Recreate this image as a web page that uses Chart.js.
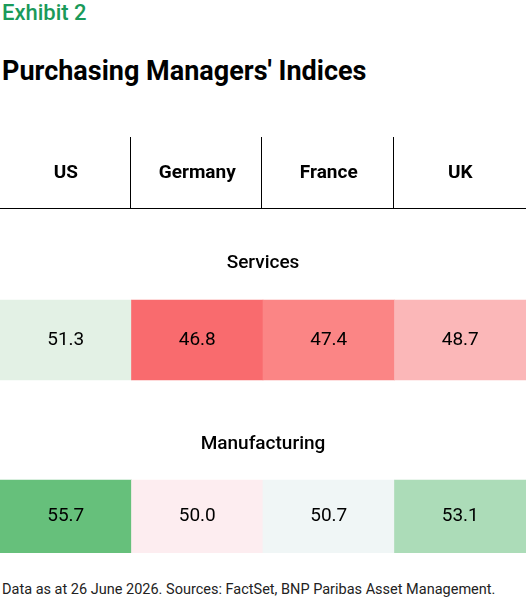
<!DOCTYPE html>
<html>
<head>
<meta charset="utf-8">
<script src="https://cdn.jsdelivr.net/npm/chart.js@4"></script>
<style>
  body { margin: 0; background: #fff; font-family: Roboto, "Noto Sans", sans-serif; }
  #exhibit { position: absolute; left: 2px; top: 0px; color: #1a9a5a; font-size: 22px; font-weight: 500; }
  #title { position: absolute; left: 2px; top: 55px; color: #000; font-size: 27px; font-weight: 700; }
  #wrap { position: absolute; left: 0; top: 137px; width: 526px; height: 416px; }
  #note { position: absolute; left: 2px; top: 581px; font-size: 14.5px; color: #222; }
</style>
</head>
<body>
<div id="exhibit">Exhibit 2</div>
<div id="title">Purchasing Managers' Indices</div>
<div id="wrap"><canvas id="myChart"></canvas></div>
<div id="note">Data as at 26 June 2026. Sources: FactSet, BNP Paribas Asset Management.</div>
<script>
// Table values
const countries = ['US', 'Germany', 'France', 'UK'];
const services = [51.3, 46.8, 47.4, 48.7];
const manufacturing = [55.7, 50.0, 50.7, 53.1];
const servicesColors = ['#e3f1e5', '#f96b6e', '#fb8585', '#fbb7b8'];
const manufacturingColors = ['#66c07b', '#fdedf0', '#f0f6f6', '#acdcb8'];

// Row bands in canvas pixels (y scale runs 0..416 top to bottom)
const servicesBand = [163, 243];
const manufacturingBand = [343, 416];

const tableText = {
    id: 'tableText',
    afterDatasetsDraw(chart) {
        const ctx = chart.ctx;
        const x = chart.scales.x;
        const y = chart.scales.y;
        ctx.save();
        ctx.textAlign = 'center';
        ctx.textBaseline = 'middle';

        // header
        ctx.fillStyle = '#000';
        ctx.font = '700 19px Roboto, sans-serif';
        countries.forEach((c, i) => ctx.fillText(c, x.getPixelForValue(i), y.getPixelForValue(36)));

        ctx.strokeStyle = '#000';
        ctx.lineWidth = 1;
        for (let i = 0; i < countries.length - 1; i++) {
            const px = Math.round((x.getPixelForValue(i) + x.getPixelForValue(i + 1)) / 2) - 1.5;
            ctx.beginPath();
            ctx.moveTo(px, y.getPixelForValue(0));
            ctx.lineTo(px, y.getPixelForValue(71));
            ctx.stroke();
        }
        ctx.beginPath();
        ctx.moveTo(0, y.getPixelForValue(71) + 0.5);
        ctx.lineTo(chart.width, y.getPixelForValue(71) + 0.5);
        ctx.stroke();

        // row labels
        ctx.font = '500 19px Roboto, sans-serif';
        ctx.fillText('Services', chart.width / 2, y.getPixelForValue(126));
        ctx.fillText('Manufacturing', chart.width / 2, y.getPixelForValue(307));

        // cell values
        ctx.font = '400 19px Roboto, sans-serif';
        chart.data.datasets.forEach((ds) => {
            ds.values.forEach((v, i) => {
                const mid = (ds.data[i][0] + ds.data[i][1]) / 2;
                ctx.fillText(v.toFixed(1), x.getPixelForValue(i), y.getPixelForValue(mid));
            });
        });
        ctx.restore();
    }
};

const ctx = document.getElementById('myChart').getContext('2d');
new Chart(ctx, {
    type: 'bar',
    data: {
        labels: countries,
        datasets: [{
            label: 'Services',
            values: services,
            data: services.map(() => servicesBand),
            backgroundColor: servicesColors,
            barPercentage: 1,
            categoryPercentage: 1
        }, {
            label: 'Manufacturing',
            values: manufacturing,
            data: manufacturing.map(() => manufacturingBand),
            backgroundColor: manufacturingColors,
            barPercentage: 1,
            categoryPercentage: 1
        }]
    },
    options: {
        responsive: true,
        maintainAspectRatio: false,
        animation: false,
        layout: { padding: 0 },
        plugins: { legend: { display: false }, tooltip: { enabled: false } },
        scales: {
            x: { display: false, stacked: true },
            y: { display: false, min: 0, max: 416, reverse: true }
        }
    },
    plugins: [tableText]
});
</script>
</body>
</html>
